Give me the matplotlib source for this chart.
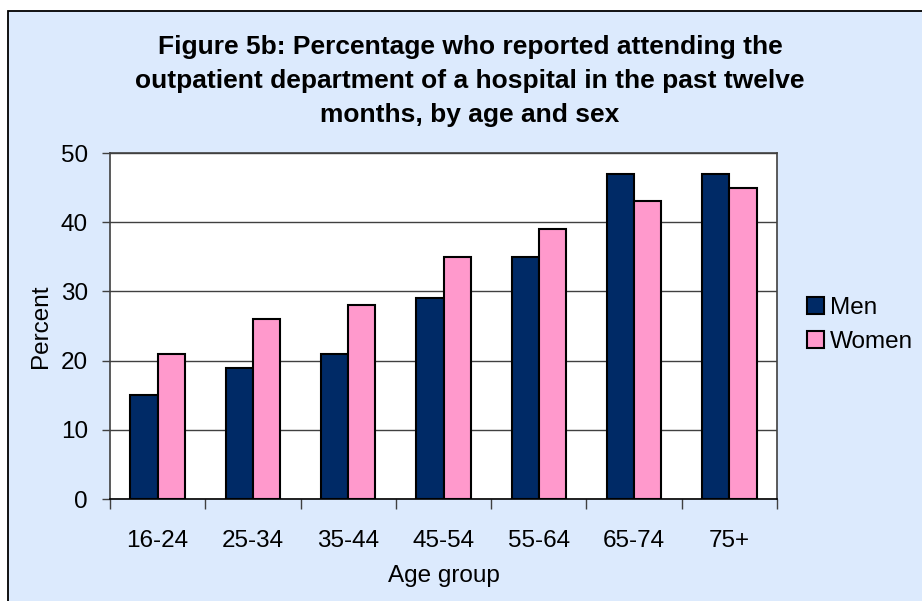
import matplotlib
matplotlib.use("Agg")
import matplotlib.pyplot as plt
from matplotlib.patches import Rectangle
import numpy as np

plt.rcParams['font.family'] = ['Liberation Sans', 'DejaVu Sans']

age_groups = ["16-24", "25-34", "35-44", "45-54", "55-64", "65-74", "75+"]
men = [15, 19, 21, 29, 35, 47, 47]
women = [21, 26, 28, 35, 39, 43, 45]
series_names = ["Men", "Women"]
y_ticks = [0, 10, 20, 30, 40, 50]

W, H = 922, 601
fig = plt.figure(figsize=(W / 100, H / 100), dpi=100, facecolor='white')

# chart area panel behind everything
bg = '#DCEAFD'
fig.patches.append(Rectangle((8 / W, -0.05), 1.1, 1.05 - 11 / H,
                             transform=fig.transFigure, facecolor=bg,
                             edgecolor='black', linewidth=1.3, zorder=-10))

ax = fig.add_axes([110 / W, (H - 499) / H, (777 - 110) / W, (499 - 153) / H])
ax.set_facecolor('white')

x = np.arange(len(age_groups))
bw = 1 / 3.5
ax.bar(x - bw / 2, men, bw, color='#002A66', edgecolor='black', linewidth=1.5,
       label=series_names[0], zorder=3)
ax.bar(x + bw / 2, women, bw, color='#FF99CC', edgecolor='black', linewidth=1.5,
       label=series_names[1], zorder=3)

fs = 17.5
ax.set_xlim(-0.5, len(age_groups) - 0.5)
ax.set_ylim(0, 50)
ax.set_yticks(y_ticks)
ax.set_yticklabels([str(v) for v in y_ticks], fontsize=fs)
ax.yaxis.grid(True, color='#404040', linewidth=1.0, zorder=1)
ax.set_axisbelow(True)

ax.set_xticks(x)
ax.set_xticklabels(age_groups, fontsize=fs)
ax.set_xticks(np.arange(len(age_groups) + 1) - 0.5, minor=True)
ax.tick_params(axis='x', which='major', length=0, pad=22)
ax.tick_params(axis='x', which='minor', length=7, width=1.0, color='#404040', direction='out')
ax.tick_params(axis='y', which='major', length=6, width=1.0, color='#404040', pad=10)

for side in ['left', 'right', 'top']:
    ax.spines[side].set_color('#404040')
    ax.spines[side].set_linewidth(1.2)
ax.spines['bottom'].set_color('black')
ax.spines['bottom'].set_linewidth(1.2)

ax.set_ylabel("Percent", fontsize=fs, labelpad=6)
ax.set_xlabel("Age group", fontsize=fs, labelpad=10)

fig.text(470 / W, 1 - 35 / H,
         "Figure 5b: Percentage who reported attending the\n"
         "outpatient department of a hospital in the past twelve\n"
         "months, by age and sex",
         ha='center', va='top', fontsize=19, fontweight='bold', linespacing=1.52)

leg = fig.legend(loc='center left', bbox_to_anchor=(797 / W, 1 - 325 / H),
                 frameon=False, fontsize=17.5, handlelength=0.7, handleheight=0.7,
                 handletextpad=0.25, labelspacing=0.5, borderaxespad=0)

fig.savefig("out.png", dpi=100, facecolor=fig.get_facecolor())
